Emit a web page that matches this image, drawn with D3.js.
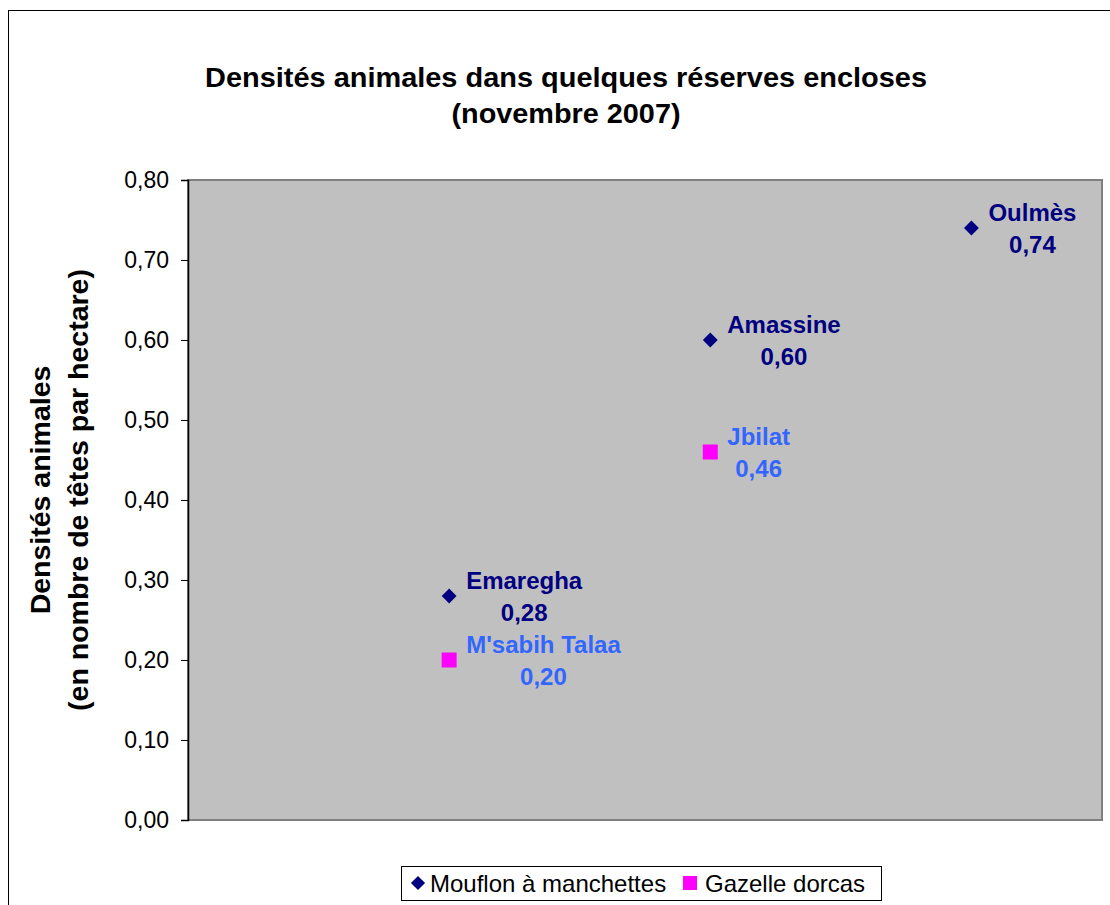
<!DOCTYPE html>
<html>
<head>
<meta charset="utf-8">
<title>Densités animales</title>
<script src="https://d3js.org/d3.v7.min.js"></script>
<style>
  body { margin: 0; background: #fff; }
  text { font-family: Arial, "Liberation Sans", sans-serif; }
</style>
</head>
<body>
<div id="vis"></div>
<script>
// data
const reserves = ["Emaregha", "Amassine", "Oulmès"]
const mouflon = [
  { name: "Emaregha", pos: 1, value: 0.28 },
  { name: "Amassine", pos: 2, value: 0.60 },
  { name: "Oulmès", pos: 3, value: 0.74 }
]
const gazelle = [
  { name: "M'sabih Talaa", pos: 1, value: 0.20 },
  { name: "Jbilat", pos: 2, value: 0.46 }
]
const seriesNames = ["Mouflon à manchettes", "Gazelle dorcas"]
const yTicks = [0, 0.1, 0.2, 0.3, 0.4, 0.5, 0.6, 0.7, 0.8]

const width = 1110
const height = 905
const plot = { left: 188, top: 180, right: 1102, bottom: 820 }

const fmt = v => d3.format(".2f")(v).replace(".", ",")

const svg = d3.select("#vis").append("svg")
  .attr("width", width)
  .attr("height", height)

// outer chart frame
svg.append("rect")
  .attr("x", 8.5).attr("y", 10.5)
  .attr("width", 1200).attr("height", 1000)
  .attr("fill", "#fff").attr("stroke", "#000")

const x = d3.scaleLinear().domain([0, 3.5]).range([plot.left, plot.right])
const y = d3.scaleLinear().domain([0, 0.8]).range([plot.bottom, plot.top])

// plot area
svg.append("rect")
  .attr("x", plot.left).attr("y", plot.top)
  .attr("width", plot.right - plot.left).attr("height", plot.bottom - plot.top)
  .attr("fill", "#c0c0c0").attr("stroke", "#808080").attr("stroke-width", 2)

// y axis
const yAxis = svg.append("g")
  .attr("transform", `translate(${plot.left},0)`)
  .call(d3.axisLeft(y).tickValues(yTicks).tickFormat(fmt).tickSize(7).tickPadding(12))
yAxis.select(".domain").attr("stroke", "#000").attr("stroke-width", 1.5)
yAxis.selectAll("text").attr("font-size", 23).attr("fill", "#000")
  .style("font-family", "Arial, 'Liberation Sans', sans-serif")

// title
const title = svg.append("text")
  .attr("text-anchor", "middle")
  .attr("font-size", 27).attr("font-weight", "bold")
title.append("tspan").attr("x", 566).attr("y", 87)
  .attr("textLength", 722).attr("lengthAdjust", "spacingAndGlyphs")
  .text("Densités animales dans quelques réserves encloses")
title.append("tspan").attr("x", 566).attr("y", 123)
  .attr("textLength", 229).attr("lengthAdjust", "spacingAndGlyphs")
  .text("(novembre 2007)")

// y axis title
const yTitle = svg.append("text")
  .attr("transform", "translate(0,490) rotate(-90)")
  .attr("text-anchor", "middle")
  .attr("font-size", 28.5).attr("font-weight", "bold")
yTitle.append("tspan").attr("x", 0).attr("y", 50).text("Densités animales")
yTitle.append("tspan").attr("x", 0).attr("y", 88).text("(en nombre de têtes par hectare)")

// markers
svg.append("g").selectAll("path")
  .data(mouflon)
  .join("path")
  .attr("d", d3.symbol(d3.symbolSquare, 110))
  .attr("transform", d => `translate(${x(d.pos)},${y(d.value)}) rotate(45)`)
  .attr("fill", "#000080")

svg.append("g").selectAll("rect")
  .data(gazelle)
  .join("rect")
  .attr("x", d => x(d.pos) - 7.5)
  .attr("y", d => y(d.value) - 7.5)
  .attr("width", 15).attr("height", 15)
  .attr("fill", "#ff00ff")

// data labels
function addLabels(data, color) {
  const g = svg.append("g")
  data.forEach(d => {
    const px = x(d.pos), py = y(d.value)
    const t1 = g.append("text")
      .attr("x", px + 17).attr("y", py - 7.5)
      .attr("font-size", 24).attr("font-weight", "bold")
      .attr("fill", color)
      .text(d.name)
    const w = t1.node().getComputedTextLength()
    g.append("text")
      .attr("x", px + 17 + w / 2).attr("y", py + 24.5)
      .attr("text-anchor", "middle")
      .attr("font-size", 24).attr("font-weight", "bold")
      .attr("fill", color)
      .text(fmt(d.value))
  })
}
addLabels(mouflon, "#000080")
addLabels(gazelle, "#3366ff")

// legend
const legend = svg.append("g")
legend.append("rect")
  .attr("x", 401.5).attr("y", 866.5)
  .attr("width", 480).attr("height", 34)
  .attr("fill", "#fff").attr("stroke", "#000")
legend.append("path")
  .attr("d", d3.symbol(d3.symbolSquare, 100))
  .attr("transform", "translate(418,883) rotate(45)")
  .attr("fill", "#000080")
legend.append("text")
  .attr("x", 430).attr("y", 892)
  .attr("font-size", 24)
  .text(seriesNames[0])
legend.append("rect")
  .attr("x", 683).attr("y", 876)
  .attr("width", 14).attr("height", 14)
  .attr("fill", "#ff00ff")
legend.append("text")
  .attr("x", 705).attr("y", 892)
  .attr("font-size", 24)
  .text(seriesNames[1])
</script>
</body>
</html>
